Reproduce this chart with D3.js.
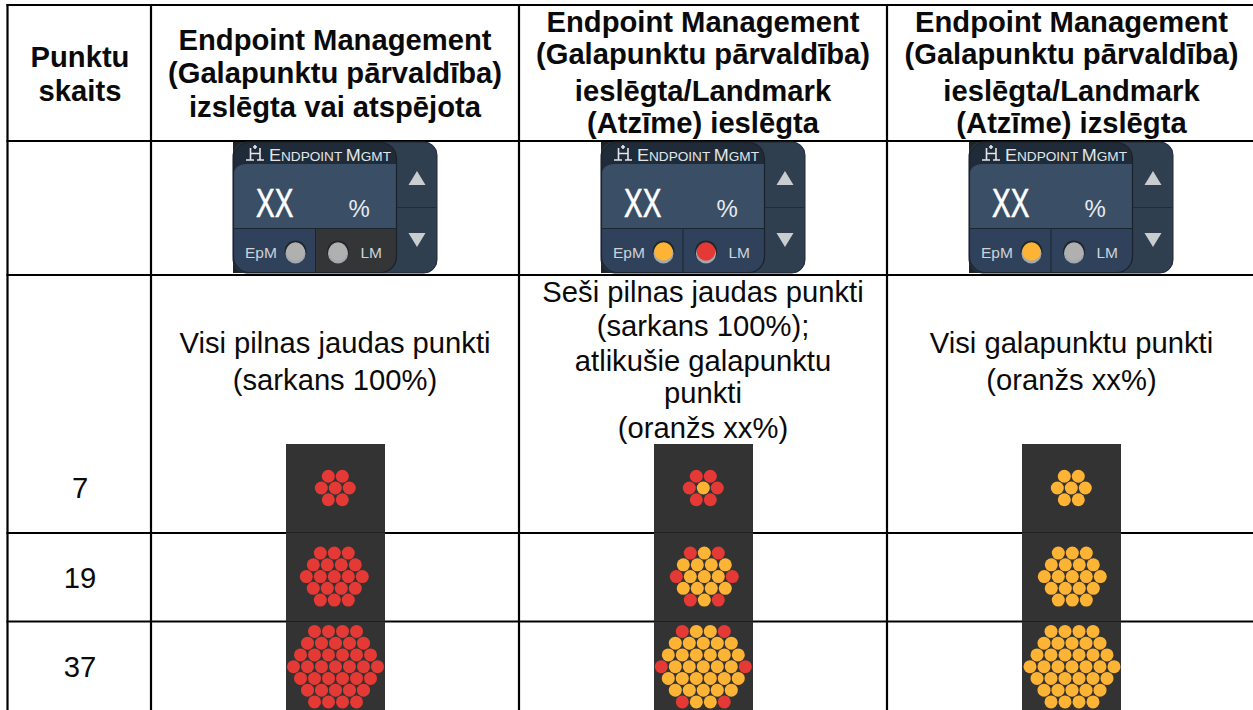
<!DOCTYPE html>
<html><head><meta charset="utf-8">
<style>html,body{margin:0;padding:0;background:#fff;overflow:hidden}svg{display:block}text{font-family:"Liberation Sans",Arial,sans-serif}</style>
<script src="https://cdn.jsdelivr.net/npm/d3@7"></script></head>
<body><svg id="c" width="1253" height="710"></svg>
<script>
const pointCounts = ["7", "19", "37"];
const cornerHeader = ["Punktu", "skaits"];
const headerOff = ["Endpoint Management", "(Galapunktu pārvaldība)", "izslēgta vai atspējota"];
const headerLmOn = ["Endpoint Management", "(Galapunktu pārvaldība)", "ieslēgta/Landmark", "(Atzīme) ieslēgta"];
const headerLmOff = ["Endpoint Management", "(Galapunktu pārvaldība)", "ieslēgta/Landmark", "(Atzīme) izslēgta"];
const descOff = ["Visi pilnas jaudas punkti", "(sarkans 100%)"];
const descLmOn = ["Seši pilnas jaudas punkti", "(sarkans 100%);", "atlikušie galapunktu", "punkti", "(oranžs xx%)"];
const descLmOff = ["Visi galapunktu punkti", "(oranžs xx%)"];
const red7 = ["rr", "rrr", "rr"];
const red19 = ["rrr", "rrrr", "rrrrr", "rrrr", "rrr"];
const red37 = ["rrrr", "rrrrr", "rrrrrr", "rrrrrrr", "rrrrrr", "rrrrr", "rrrr"];
const mixed7 = ["rr", "rar", "rr"];
const mixed19 = ["rar", "aaaa", "raaar", "aaaa", "rar"];
const mixed37 = ["raar", "aaaaa", "aaaaaa", "raaaaar", "aaaaaa", "aaaaa", "raar"];
const amber7 = ["aa", "aaa", "aa"];
const amber19 = ["aaa", "aaaa", "aaaaa", "aaaa", "aaa"];
const amber37 = ["aaaa", "aaaaa", "aaaaaa", "aaaaaaa", "aaaaaa", "aaaaa", "aaaa"];
const epmLed = ["off", "amber", "amber"];
const lmLed = ["off", "red", "off"];

const svg = d3.select("#c");
const ink = "#000";
const colX = [151, 519, 887];
const colCenters = [335, 703, 1071.5];
const rowY = [5, 141, 275, 533, 621.5];
const dotColor = d3.scaleOrdinal().domain(["r", "a"]).range(["#e53935", "#fdb334"]);
const ledColor = d3.scaleOrdinal().domain(["off", "amber", "red"]).range(["#b0b0b0", "#fdb334", "#e53935"]);

// grid
const grid = svg.append("g").attr("stroke", ink).attr("stroke-width", 2.2);
rowY.forEach(y => grid.append("line").attr("x1", 6.5).attr("x2", 1253).attr("y1", y).attr("y2", y));
[7.5, ...colX].forEach(x => grid.append("line").attr("x1", x).attr("x2", x).attr("y1", 4).attr("y2", 710));

// text helper
function lines(arr, cx, ys, bold) {
  svg.append("g").selectAll("text").data(arr).join("text")
    .attr("x", cx).attr("y", (d, i) => ys[i])
    .attr("text-anchor", "middle").attr("font-size", 29.2)
    .attr("font-weight", bold ? 700 : 400).attr("fill", "#0a0a0a").text(d => d);
}

// dark panels and dot arrays
const panelX = [286, 654, 1022];
const panelRows = [[444, 532.2], [533, 621], [622, 710]];
const centersX = [[335.3, 334.3, 335.5], [703.3, 704.3, 703.3], [1071.3, 1072.3, 1072]];
const centersY = [488, 576.6, 666.7];
const patterns = [[red7, red19, red37], [mixed7, mixed19, mixed37], [amber7, amber19, amber37]];
const pitchX = 14, pitchY = 11.75;

patterns.forEach((col, c) => {
  const g = svg.append("g");
  g.append("rect").attr("x", panelX[c]).attr("y", 444).attr("width", 99).attr("height", 266).attr("fill", "#1e1e1e");
  panelRows.forEach(r => g.append("rect").attr("x", panelX[c]).attr("y", r[0]).attr("width", 99).attr("height", r[1] - r[0]).attr("fill", "#333333"));
  col.forEach((pattern, p) => {
    const cells = [];
    pattern.forEach((row, ri) => [...row].forEach((k, ci) => cells.push({
      k, dx: ci - (row.length - 1) / 2, dy: ri - (pattern.length - 1) / 2
    })));
    const x = d3.scaleLinear().domain([0, 1]).range([centersX[c][p], centersX[c][p] + pitchX]);
    const y = d3.scaleLinear().domain([0, 1]).range([centersY[p], centersY[p] + pitchY]);
    g.append("g").selectAll("circle").data(cells).join("circle")
      .attr("cx", d => x(d.dx)).attr("cy", d => y(d.dy)).attr("r", 6.5)
      .attr("fill", d => dotColor(d.k));
  });
});

// widgets
function widget(ox, ci) {
  const g = svg.append("g").attr("transform", `translate(${ox},142)`);
  const W = 204, H = 131, L = 163, div = ci === 0 ? 82.5 : 82;
  g.append("rect").attr("width", 30).attr("height", H).attr("fill", "#1d242c");
  g.append("rect").attr("x", 0).attr("width", W).attr("height", H).attr("rx", 13).attr("fill", "#2f3f50").attr("stroke", "#222b35").attr("stroke-width", 1);
  g.append("line").attr("x1", L).attr("x2", W).attr("y1", 65.5).attr("y2", 65.5).attr("stroke", "#222c37").attr("stroke-width", 1.2);
  const id = "wclip" + ci;
  g.append("clipPath").attr("id", id).append("rect").attr("width", L).attr("height", H).attr("rx", 16);
  const lb = g.append("g").attr("clip-path", `url(#${id})`);
  lb.append("rect").attr("width", L).attr("height", H).attr("fill", "#1f2b39");
  lb.append("path").attr("d", `M0,36 Q0,22 14,22 H${L} V86 H0 Z`).attr("fill", "#3a4f66");
  lb.append("rect").attr("x", 0).attr("y", 87).attr("width", div).attr("height", 44).attr("fill", "#30425b");
  lb.append("rect").attr("x", div).attr("y", 87).attr("width", L - div).attr("height", 44).attr("fill", ci === 0 ? "#333536" : "#30425b");
  lb.append("line").attr("x1", 0).attr("x2", L).attr("y1", 86.5).attr("y2", 86.5).attr("stroke", "#1b2530").attr("stroke-width", 1.2);
  lb.append("line").attr("x1", div).attr("x2", div).attr("y1", 87).attr("y2", H).attr("stroke", "#1b2530").attr("stroke-width", 1);
  g.append("rect").attr("x", 0.5).attr("y", 0.5).attr("width", L).attr("height", H - 1).attr("rx", 16).attr("fill", "none").attr("stroke", "#1a222b").attr("stroke-width", 1.2);
  g.append("path").attr("d", "M184,29 L192.5,43 L175.5,43 Z").attr("fill", "#c9cdd0");
  g.append("path").attr("d", "M184,105 L192.5,91 L175.5,91 Z").attr("fill", "#c9cdd0");
  g.append("path").attr("d", "M13,18 H21 M17.5,18 V6 M17.5,11.5 H27 M27,6 V18 M24,18 H31 M22,3 V7 M20,5 H24")
    .attr("fill", "none").attr("stroke", "#e3e6e9").attr("stroke-width", 1.6);
  const t = g.append("text").attr("x", 36).attr("y", 18.5).attr("fill", "#e3e7ea").attr("textLength", 122).attr("lengthAdjust", "spacingAndGlyphs");
  [["E", 16.5], ["NDPOINT ", 12.5], ["M", 16.5], ["GMT", 12.5]].forEach(p => t.append("tspan").attr("font-size", p[1]).text(p[0]));
  g.append("text").attr("transform", "translate(23,75) scale(0.7,1)").attr("font-size", 40).attr("fill", "#fff").attr("stroke", "#fff").attr("stroke-width", 0.6).text("XX");
  g.append("text").attr("x", 115.5).attr("y", 74.5).attr("font-size", 24).attr("fill", "#e8ebee").text("%");
  g.append("text").attr("x", 12).attr("y", 115.5).attr("font-size", 15.5).attr("fill", "#cdd3d8").text("EpM");
  g.append("text").attr("x", 127.5).attr("y", 115.5).attr("font-size", 15.5).attr("fill", "#cdd3d8").text("LM");
  [[62.5, epmLed[ci]], [105, lmLed[ci]]].forEach(l => {
    g.append("circle").attr("cx", l[0]).attr("cy", 109.5).attr("r", 11).attr("fill", "#20262c");
    g.append("circle").attr("cx", l[0]).attr("cy", 111.5).attr("r", 10).attr("fill", "#a4a9ad");
    g.append("circle").attr("cx", l[0]).attr("cy", 109.5).attr("r", 9.2).attr("fill", ledColor(l[1]));
  });
}
[233, 601, 969].forEach(widget);

// header text
lines(cornerHeader, 80, [66.7, 101], true);
lines(headerOff, colCenters[0], [50, 83, 116.7], true);
lines(headerLmOn, colCenters[1], [31.7, 64.3, 100.7, 133], true);
lines(headerLmOff, colCenters[2], [31.7, 64.3, 100.7, 133], true);
// descriptions
lines(descOff, colCenters[0], [353, 390], false);
lines(descLmOn, colCenters[1], [302.3, 336, 371, 403, 437.7], false);
lines(descLmOff, colCenters[2], [353, 390], false);
// counts
lines(pointCounts, 80, [498.3, 588, 676.7], false);
</script></body></html>
